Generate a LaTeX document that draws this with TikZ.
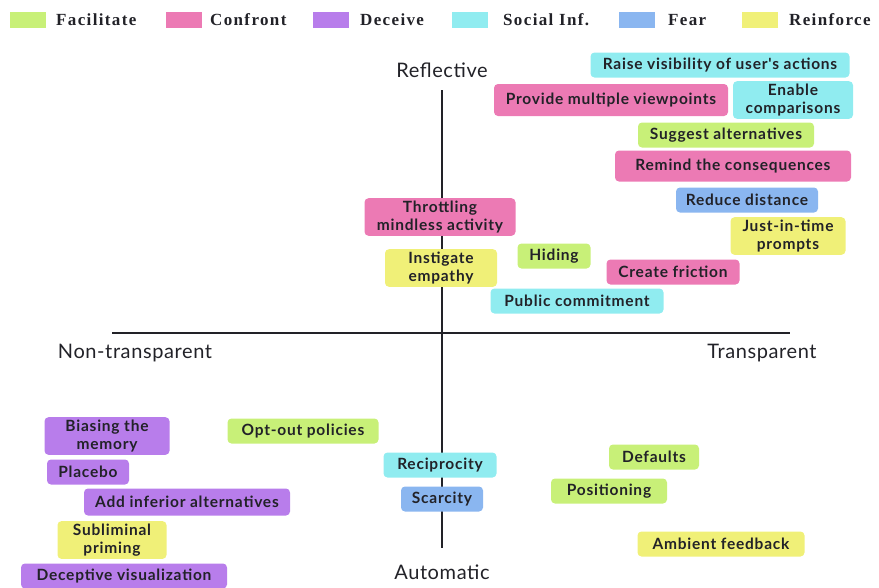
\documentclass[tikz,border=0pt]{standalone}
\usepackage{fontspec}
\setmainfont{Lato}
\newfontfamily\legendfont[LetterSpace=8]{Liberation Serif}
\newfontfamily\tagfont[LetterSpace=5]{Lato}
\newfontfamily\polefont[LetterSpace=3]{Lato}
\usepackage{tikz}

\definecolor{facil}{RGB}{200,240,120}
\definecolor{confr}{RGB}{236,122,180}
\definecolor{decei}{RGB}{184,125,235}
\definecolor{socinf}{RGB}{144,236,240}
\definecolor{fearc}{RGB}{138,182,240}
\definecolor{reinf}{RGB}{240,240,120}
\definecolor{ink}{RGB}{34,34,40}

\begin{document}
\begin{tikzpicture}[x=1pt, y=-1pt, every node/.style={text=ink},
	tag/.style={rounded corners=4pt, fill=#1, font=\tagfont\fontsize{15.5}{17.5}\selectfont\bfseries, inner xsep=6pt, inner ysep=3pt, minimum height=25pt, align=center},
	swatch/.style={fill=#1, minimum width=36pt, minimum height=16pt, inner sep=0pt},
	key/.style={anchor=west, font=\legendfont\fontsize{17}{19}\selectfont\bfseries, inner sep=0pt},
	pole/.style={font=\polefont\fontsize{20}{22}\selectfont, inner sep=0pt}]
	\useasboundingbox (0,0) rectangle (879,587);

	% legend
	\node[swatch=facil] (s1) at (28,20){};
	\node[key] (k1) at (56,20){Facilitate};
	\node[swatch=confr] (s2) at (184,20){};
	\node[key] (k2) at (210,20){Confront};
	\node[swatch=decei] (s3) at (331,20){};
	\node[key] (k3) at (360,20){Deceive};
	\node[swatch=socinf] (s4) at (470,20){};
	\node[key] (k4) at (503,20){Social Inf.};
	\node[swatch=fearc] (s5) at (637,20){};
	\node[key] (k5) at (668,20){Fear};
	\node[swatch=reinf] (s6) at (760,20){};
	\node[key] (k6) at (789,20){Reinforce};

	% axes
	\node[pole] (refl) at (442,70){Reflective};
	\node[pole] (auto) at (442,572){Automatic};
	\node[pole] (nont) at (135,353){Non-transparent};
	\node[pole] (tran) at (762,353){Transparent};
	\coordinate (vtop) at (442,90);
	\coordinate (vbot) at (442,548);
	\coordinate (hleft) at (112,333);
	\coordinate (hright) at (790,333);
	\draw[ink, line width=1.2pt] (vtop) -- (vbot);
	\draw[ink, line width=1.2pt] (hleft) -- (hright);

	% reflective side
	\node[tag=socinf, minimum width=259pt] (raise) at (720,65){Raise visibility of user's actions};
	\node[tag=confr, minimum width=234pt, minimum height=32pt] (views) at (611,100){Provide multiple viewpoints};
	\node[tag=socinf, minimum width=120pt] (compare) at (793,100){Enable\\comparisons};
	\node[tag=facil, minimum width=176pt] (suggest) at (726,135){Suggest alternatives};
	\node[tag=confr, minimum width=236pt, minimum height=31pt] (remind) at (733,166){Remind the consequences};
	\node[tag=fearc, minimum width=142pt] (distance) at (747,200){Reduce distance};
	\node[tag=confr, minimum width=151pt] (throttle) at (440,217){Throttling\\mindless activity};
	\node[tag=reinf, minimum width=115pt] (prompts) at (788,236){Just-in-time\\prompts};
	\node[tag=facil, minimum width=73pt] (hiding) at (554,256){Hiding};
	\node[tag=reinf, minimum width=112pt] (empathy) at (441,268){Instigate\\empathy};
	\node[tag=confr, minimum width=133pt] (friction) at (673,272){Create friction};
	\node[tag=socinf, minimum width=173pt] (commit) at (577,301){Public commitment};

	% automatic side
	\node[tag=decei, minimum width=125pt] (memory) at (107,436){Biasing the\\memory};
	\node[tag=facil, minimum width=151pt] (optout) at (303,431){Opt-out policies};
	\node[tag=decei, minimum width=82pt] (placebo) at (88,472){Placebo};
	\node[tag=decei, minimum width=206pt, minimum height=27pt] (inferior) at (187,502){Add inferior alternatives};
	\node[tag=reinf, minimum width=109pt] (priming) at (112,540){Subliminal\\priming};
	\node[tag=decei, minimum width=206pt] (deceptive) at (124,576){Deceptive visualization};
	\node[tag=socinf, minimum width=113pt] (recip) at (440,465){Reciprocity};
	\node[tag=fearc, minimum width=82pt] (scarce) at (442,499){Scarcity};
	\node[tag=facil, minimum width=90pt] (defaults) at (654,457){Defaults};
	\node[tag=facil, minimum width=116pt] (position) at (609,491){Positioning};
	\node[tag=reinf, minimum width=167pt] (ambient) at (721,544){Ambient feedback};
\end{tikzpicture}
\end{document}
